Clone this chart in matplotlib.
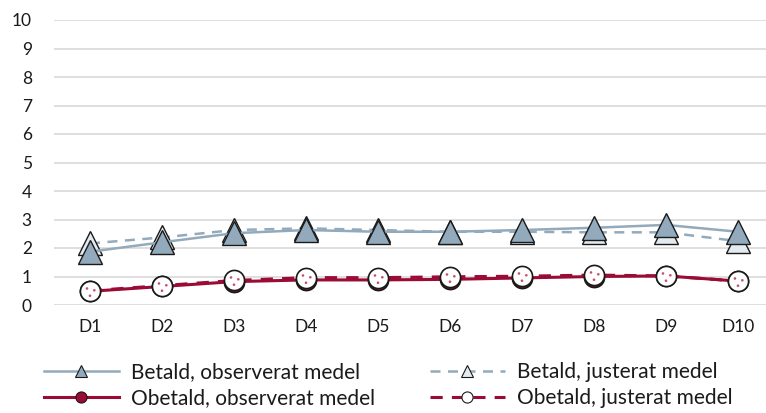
import numpy as np
import matplotlib
matplotlib.use('Agg')
import matplotlib.pyplot as plt
from matplotlib.lines import Line2D
from matplotlib.path import Path

# data
categories = ['D1', 'D2', 'D3', 'D4', 'D5', 'D6', 'D7', 'D8', 'D9', 'D10']
betald_obs = [1.87, 2.20, 2.52, 2.63, 2.57, 2.57, 2.63, 2.71, 2.81, 2.57]
betald_adj = [2.16, 2.37, 2.63, 2.69, 2.63, 2.57, 2.57, 2.55, 2.55, 2.24]
obetald_obs = [0.48, 0.65, 0.82, 0.88, 0.88, 0.90, 0.95, 1.00, 1.02, 0.84]
obetald_adj = [0.50, 0.68, 0.86, 0.96, 0.96, 0.99, 1.01, 1.05, 1.02, 0.84]
labels = ['Betald, observerat medel', 'Betald, justerat medel',
          'Obetald, observerat medel', 'Obetald, justerat medel']

BLUE = '#92aabb'
BLUE_LIGHT = '#e3ebf0'
RED = '#9a0b35'

plt.rcParams['font.family'] = ['Lato', 'DejaVu Sans']

# small red dots inside the white circle markers
dots = [(-0.35, 0.30), (0.38, 0.12), (-0.05, -0.42)]
dot_path = Path.make_compound_path(*[
    Path(Path.unit_circle().vertices * 0.13 + np.array(d), Path.unit_circle().codes)
    for d in dots])
ext = np.max(np.abs(dot_path.vertices))

fig = plt.figure(figsize=(7.66, 4.13), dpi=100)
W, H = 766, 413
ax = fig.add_axes([54 / W, (H - 305) / H, (766 - 54) / W, (305 - 20) / H])

x = np.arange(len(categories))
ms_tri = 17
ms_circ = 14.5

ax.plot(x, betald_adj, color=BLUE, lw=1.8, dashes=(4, 3), marker='^', ms=ms_tri,
        mfc=BLUE_LIGHT, mec='#1a1a1a', mew=1.0, zorder=3)
ax.plot(x, betald_obs, color=BLUE, lw=1.8, marker='^', ms=ms_tri,
        mfc=BLUE, mec='#1a1a1a', mew=1.0, zorder=4)
ax.plot(x, obetald_obs, color=RED, lw=2.2, marker='o', ms=ms_circ,
        mfc=RED, mec='#1a1a1a', mew=1.2, zorder=5)
ax.plot(x, obetald_adj, color=RED, lw=2.2, dashes=(4, 3), marker='o', ms=ms_circ,
        mfc='white', mec='#1a1a1a', mew=1.2, zorder=6)
ax.plot(x, obetald_adj, ls='none', marker=dot_path, ms=ms_circ * ext,
        mfc='#c8506e', mec='none', zorder=7)

ax.set_ylim(0, 10)
ax.set_yticks(range(0, 11))
ax.set_xlim(-0.5, 9.39)
ax.set_xticks(x)
ax.set_xticklabels(categories)
ax.grid(axis='y', color='#d9d9d9', lw=1.2)
ax.set_axisbelow(True)
for s in ax.spines.values():
    s.set_visible(False)
ax.tick_params(axis='both', length=0, labelsize=12.5, colors='#1a1a1a')
ax.tick_params(axis='y', pad=16)
ax.tick_params(axis='x', pad=10)

# legend with smaller markers, filled column by column
h_bobs = Line2D([], [], color=BLUE, lw=1.8, marker='^', ms=8, mfc=BLUE, mec='#1a1a1a', mew=0.8)
h_badj = Line2D([], [], color=BLUE, lw=1.8, dashes=(4, 3), marker='^', ms=8, mfc=BLUE_LIGHT,
                mec='#1a1a1a', mew=0.8)
h_oobs = Line2D([], [], color=RED, lw=2.2, marker='o', ms=8, mfc=RED, mec='#1a1a1a', mew=0.8)
h_oadj = Line2D([], [], color=RED, lw=2.2, dashes=(4, 3), marker='o', ms=8, mfc='white',
                mec='#1a1a1a', mew=0.8)
handles = [h_bobs, h_oobs, h_badj, h_oadj]
leg_labels = [labels[0], labels[2], labels[1], labels[3]]
leg = fig.legend(handles, leg_labels, ncol=2, loc='center', bbox_to_anchor=(0.507, 1 - 385 / H),
                 frameon=False, fontsize=15, handlelength=3.6, handletextpad=0.6,
                 columnspacing=2.6, labelspacing=0.3)
for t in leg.get_texts():
    t.set_color('#1a1a1a')

fig.savefig('out.png', dpi=100)
